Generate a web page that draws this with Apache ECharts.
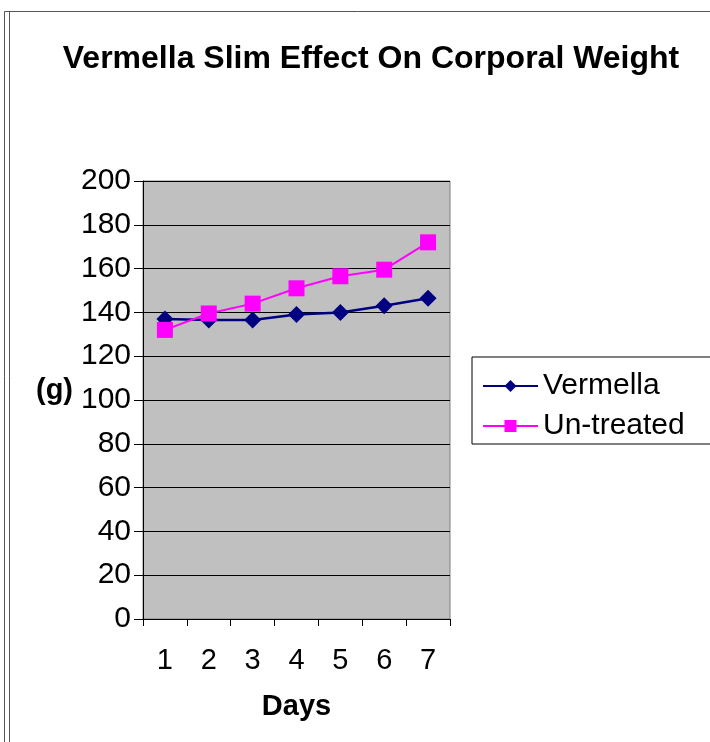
<!DOCTYPE html>
<html lang="en">
<head>
  <meta charset="UTF-8">
  <title>Vermella Slim Effect On Corporal Weight</title>
  <style>
    html, body { margin: 0; padding: 0; background: #fff; }
    .main { width: 710px; height: 742px; }
  </style>
</head>
<body>
  <div class="main"></div>
  <script src="https://cdn.jsdelivr.net/npm/echarts@6/dist/echarts.min.js"></script>
  <script>
    // data
    const days = ['1', '2', '3', '4', '5', '6', '7']
    const vermella = [137, 136.5, 136.5, 139, 140, 143, 146.5]
    const untreated = [132, 139.5, 144, 151, 156.5, 159.5, 172]

    const font = 'Liberation Sans, Arial, sans-serif'
    var myChart = echarts.init(document.querySelector('.main'))

    var option = {
      animation: false,
      title: {
        text: 'Vermella Slim Effect On Corporal Weight',
        left: 366,
        textAlign: 'center',
        top: 38,
        textStyle: { fontFamily: font, fontSize: 32, fontWeight: 'bold', color: '#000' }
      },
      legend: {
        orient: 'vertical',
        left: 472,
        top: 357,
        data: ['Vermella', 'Un-treated'],
        itemWidth: 55,
        itemHeight: 15,
        itemGap: 10,
        padding: [14, 30, 3, 10],
        borderColor: '#000',
        borderWidth: 1,
        textStyle: { fontFamily: font, fontSize: 30, color: '#000' }
      },
      graphic: [
        // outer frame of the chart object
        { type: 'line', shape: { x1: 4.5, y1: 11.5, x2: 710, y2: 11.5 }, style: { stroke: '#555', lineWidth: 1 } },
        { type: 'line', shape: { x1: 4.5, y1: 11.5, x2: 4.5, y2: 742 }, style: { stroke: '#555', lineWidth: 1 } },
        { type: 'line', shape: { x1: 9.5, y1: 11.5, x2: 9.5, y2: 742 }, style: { stroke: '#555', lineWidth: 1 } },
        {
          type: 'text', left: 36, top: 376,
          style: { text: '(g)', fontFamily: font, fontSize: 29, fontWeight: 'bold', fill: '#000' }
        }
      ],
      grid: {
        left: 143,
        right: 260,
        top: 181,
        bottom: 123,
        show: true,
        backgroundColor: '#c0c0c0',
        borderColor: '#808080',
        borderWidth: 1
      },
      xAxis: {
        type: 'category',
        data: days,
        boundaryGap: true,
        name: 'Days',
        nameLocation: 'middle',
        nameGap: 73,
        nameTextStyle: { fontFamily: font, fontSize: 29, fontWeight: 'bold', color: '#000' },
        axisLine: { lineStyle: { color: '#000', width: 1 } },
        axisTick: { show: true, length: 7, lineStyle: { color: '#000' } },
        axisLabel: { fontFamily: font, fontSize: 29, color: '#000', margin: 27 }
      },
      yAxis: {
        type: 'value',
        min: 0,
        max: 200,
        interval: 20,
        axisLine: { show: true, lineStyle: { color: '#000', width: 1 } },
        axisTick: { show: true, length: 9, lineStyle: { color: '#000' } },
        axisLabel: { fontFamily: font, fontSize: 30, color: '#000', margin: 12 },
        splitLine: { show: true, lineStyle: { color: '#000', width: 1 } }
      },
      series: [
        {
          name: 'Vermella',
          type: 'line',
          data: vermella,
          symbol: 'diamond',
          symbolSize: 17,
          showAllSymbol: true,
          lineStyle: { color: '#000080', width: 2.5 },
          itemStyle: { color: '#000080' }
        },
        {
          name: 'Un-treated',
          type: 'line',
          data: untreated,
          symbol: 'rect',
          symbolSize: 16,
          showAllSymbol: true,
          lineStyle: { color: '#ff00ff', width: 2 },
          itemStyle: { color: '#ff00ff' }
        }
      ]
    }

    myChart.setOption(option)
  </script>
</body>
</html>
